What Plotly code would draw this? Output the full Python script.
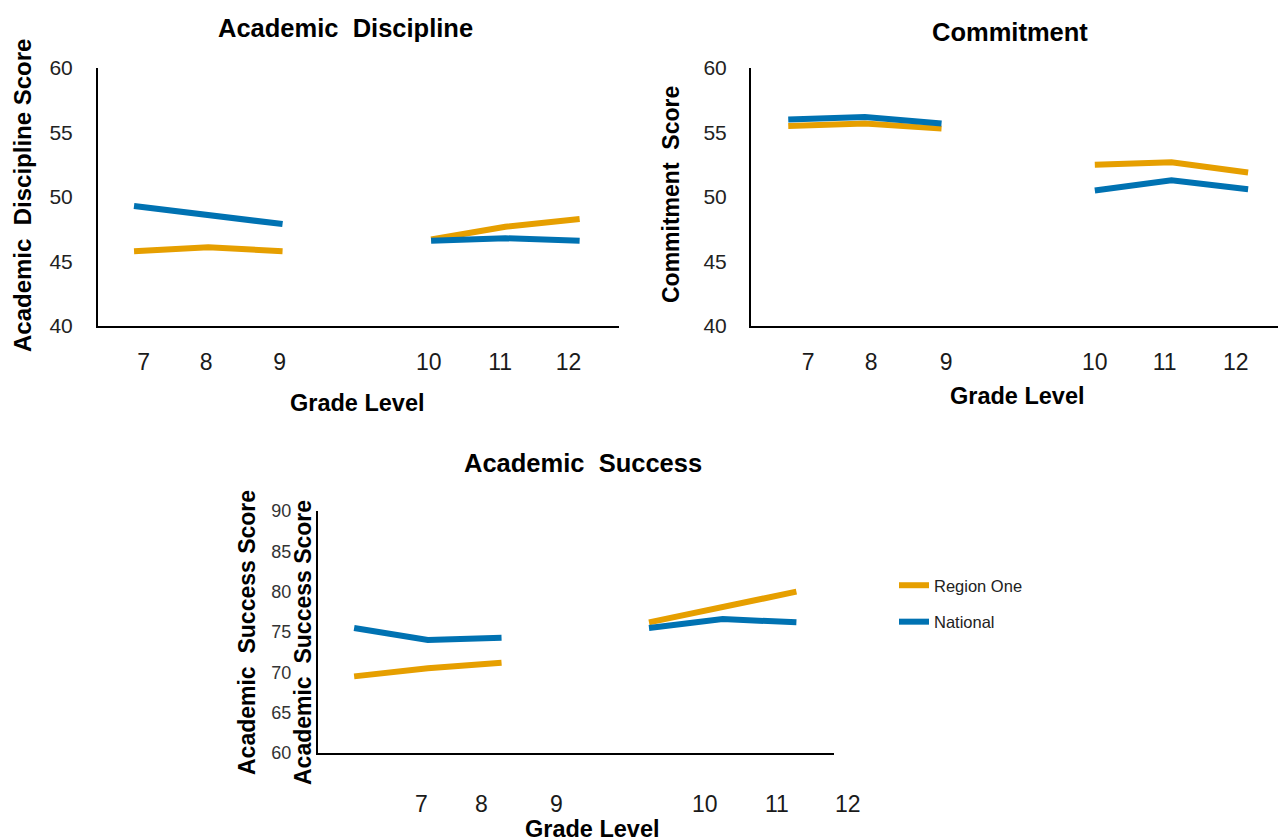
import plotly.graph_objects as go

# Scores by grade level (grades 7-9 middle school, 10-12 high school)
grades = [7, 8, 9, 10, 11, 12]
discipline_region = [45.8, 46.1, 45.8, 46.7, 47.7, 48.3]
discipline_national = [49.3, 48.6, 47.9, 46.6, 46.8, 46.6]
commitment_region = [55.5, 55.7, 55.3, 52.5, 52.7, 51.9]
commitment_national = [56.0, 56.2, 55.7, 50.5, 51.3, 50.6]
success_region = [69.5, 70.5, 71.2, 76.2, 78.1, 80.0]
success_national = [75.5, 74.0, 74.3, 75.5, 76.6, 76.2]

# Where each grade label is printed along the x axis (in grade-slot units)
discipline_tick_pos = [0.13, 0.97, 1.96, 3.97, 4.93, 5.85]
commitment_tick_pos = [0.26, 1.08, 2.06, 4.0, 4.91, 5.84]
success_tick_pos = [0.92, 1.73, 2.74, 4.76, 5.73, 6.70]

REGION_COLOR = "#E69F00"
NATIONAL_COLOR = "#0072B2"
FONT = "Liberation Sans, Arial, sans-serif"

W, H = 1278, 839


def px_x(p):
    return p / W


def px_y(p):
    return 1 - p / H


def slot(g):
    # one empty slot separates grade 9 from grade 10
    return grades.index(g) + (1 if g >= 10 else 0)


def split(values):
    xs, ys = [], []
    for g, v in zip(grades, values):
        if g == 10:
            xs.append(None)
            ys.append(None)
        xs.append(slot(g))
        ys.append(v)
    return xs, ys


fig = go.Figure()

panels = [
    ("x", "y", discipline_region, discipline_national, False),
    ("x2", "y2", commitment_region, commitment_national, False),
    ("x3", "y3", success_region, success_national, True),
]
for xa, ya, reg, nat, show in panels:
    xs, ys = split(reg)
    fig.add_trace(go.Scatter(x=xs, y=ys, mode="lines", name="Region One",
                             line=dict(color=REGION_COLOR, width=6),
                             xaxis=xa, yaxis=ya, showlegend=show,
                             legendgroup="region", connectgaps=False))
    xs, ys = split(nat)
    fig.add_trace(go.Scatter(x=xs, y=ys, mode="lines", name="National",
                             line=dict(color=NATIONAL_COLOR, width=6),
                             xaxis=xa, yaxis=ya, showlegend=show,
                             legendgroup="national", connectgaps=False))

xtick_font = dict(family=FONT, size=23, color="#1a1a1a")
labels = [str(g) for g in grades]

common_x = dict(showline=True, linecolor="black", linewidth=2, showgrid=False,
                zeroline=False, ticks="", tickfont=xtick_font, automargin=False)
common_y = dict(showline=True, linecolor="black", linewidth=2, showgrid=False,
                zeroline=False, ticks="", dtick=5, automargin=False)

X1 = (98, 619)
X2 = (751, 1278)
X3 = (318, 834)
R1 = [-0.485, 6.53]
R2 = [-0.486, 6.39]
R3 = [-0.49, 6.51]

fig.update_layout(
    width=W, height=H,
    margin=dict(l=0, r=0, t=0, b=0, autoexpand=False),
    paper_bgcolor="white", plot_bgcolor="white",
    xaxis=dict(domain=[px_x(X1[0]), px_x(X1[1])], range=R1, anchor="y",
               tickvals=discipline_tick_pos, ticktext=labels,
               ticklabelstandoff=14, **common_x),
    yaxis=dict(domain=[px_y(326), px_y(68)], range=[40, 60], anchor="x",
               tickfont=dict(family=FONT, size=21, color="#222222"),
               ticklabelstandoff=19, **common_y),
    xaxis2=dict(domain=[px_x(X2[0]), px_x(X2[1])], range=R2, anchor="y2",
                tickvals=commitment_tick_pos, ticktext=labels,
                ticklabelstandoff=14, **common_x),
    yaxis2=dict(domain=[px_y(326), px_y(68)], range=[40, 60], anchor="x2",
                tickfont=dict(family=FONT, size=21, color="#222222"),
                ticklabelstandoff=18, **common_y),
    xaxis3=dict(domain=[px_x(X3[0]), px_x(X3[1])], range=R3, anchor="y3",
                showticklabels=False, **common_x),
    yaxis3=dict(domain=[px_y(753), px_y(511)], range=[60, 90], anchor="x3",
                tickfont=dict(family=FONT, size=18, color="#333333"),
                ticklabelstandoff=21, **common_y),
    legend=dict(x=px_x(894), y=px_y(568), xanchor="left", yanchor="top",
                font=dict(family=FONT, size=16.5, color="#222222"),
                tracegroupgap=12, traceorder="grouped",
                bgcolor="rgba(0,0,0,0)"),
)

# Lower panel grade labels: the last one sits past the axis end, so they are
# placed in page coordinates derived from the axis scale.
for pos, lab in zip(success_tick_pos, labels):
    frac = (pos - R3[0]) / (R3[1] - R3[0])
    xpix = X3[0] + frac * (X3[1] - X3[0])
    fig.add_annotation(x=px_x(xpix), y=px_y(804), xref="paper", yref="paper",
                       text=lab, showarrow=False, font=xtick_font,
                       xanchor="center", yanchor="middle")

ytitle_font = dict(family=FONT, size=24, color="black")
title_font = dict(family=FONT, size=25.5, color="black")
xtitle_font = dict(family=FONT, size=23.5, color="black")


def add_text(text, x, y, font, angle=0):
    fig.add_annotation(x=px_x(x), y=px_y(y), xref="paper", yref="paper",
                       text=text, showarrow=False, font=font, textangle=angle,
                       xanchor="center", yanchor="middle")


add_text("<b>Academic\u00a0 Discipline</b>", 345, 28, title_font)
add_text("<b>Commitment</b>", 1010, 32, title_font)
add_text("<b>Academic\u00a0 Success</b>", 583, 463, title_font)

add_text("<b>Academic\u00a0 Discipline Score</b>", 22, 196, ytitle_font, -90)
add_text("<b>Commitment\u00a0 Score</b>", 671, 195, dict(ytitle_font, size=23), -90)
add_text("<b>Academic\u00a0 Success Score</b>", 247, 632, dict(ytitle_font, size=23), -90)
add_text("<b>Academic\u00a0 Success Score</b>", 303, 643, dict(ytitle_font, size=23), -90)

add_text("<b>Grade Level</b>", 357, 403, xtitle_font)
add_text("<b>Grade Level</b>", 1018, 396, xtitle_font)
add_text("<b>Grade Level</b>", 592, 829, xtitle_font)

fig.write_html("out.html")
